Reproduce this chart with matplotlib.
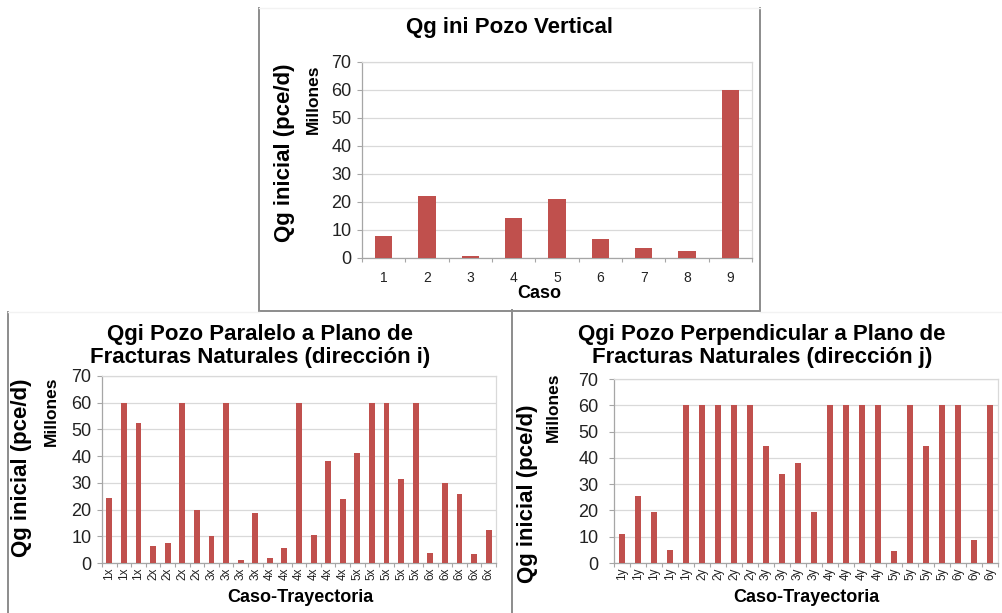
import numpy as np
import matplotlib
matplotlib.use('Agg')
import matplotlib.pyplot as plt
from matplotlib.lines import Line2D

plt.rcParams['font.family'] = ['Liberation Sans', 'DejaVu Sans']

# figure size in pixels (dpi 100)
W, H = 1003, 613

# --- data (millones de pce/d) ---
casos_vertical = ['1', '2', '3', '4', '5', '6', '7', '8', '9']
qg_vertical = [8.0, 22.0, 0.6, 14.2, 21.0, 6.8, 3.5, 2.4, 60.0]

casos_paralelo = ['1x', '1x', '1x', '2x', '2x', '2x', '2x', '3x', '3x', '3x', '3x',
                  '4x', '4x', '4x', '4x', '4x', '4x', '5x', '5x', '5x', '5x', '5x',
                  '6x', '6x', '6x', '6x', '6x']
qg_paralelo = [24.4, 60.0, 52.3, 6.4, 7.3, 60.0, 19.9, 10.1, 60.0, 1.0, 18.9,
               1.8, 5.6, 60.0, 10.5, 38.3, 23.8, 41.0, 60.0, 60.0, 31.6, 60.0,
               3.9, 30.0, 26.0, 3.5, 12.4]

casos_perpendicular = ['1y', '1y', '1y', '1y', '1y', '2y', '2y', '2y', '2y',
                       '3y', '3y', '3y', '3y', '4y', '4y', '4y', '4y',
                       '5y', '5y', '5y', '5y', '6y', '6y', '6y']
qg_perpendicular = [11.2, 25.4, 19.3, 5.1, 60.0, 60.0, 60.0, 60.0, 60.0,
                    44.7, 33.9, 38.1, 19.4, 60.0, 60.0, 60.0, 60.0,
                    4.7, 60.0, 44.4, 60.0, 60.0, 8.6, 60.0]

BAR_COLOR = '#C0504D'
GRID_COLOR = '#D9D9D9'
AXIS_COLOR = '#A6A6A6'
FRAME_COLOR = '#8C8C8C'


def fx(x):
    return x / W


def fy(y):
    return 1 - y / H


def axes_rect(left, top, right, bottom):
    """Pixel box (top-left origin) -> figure fraction rect."""
    return [fx(left), fy(bottom), (right - left) / W, (bottom - top) / H]


def bar_panel(ax, labels, values, xtick_size, rotation, xpad, ypad=4):
    """Excel-like column chart."""
    x = np.arange(len(values))
    ax.bar(x, values, width=0.4, color=BAR_COLOR, zorder=3)
    ax.set_xlim(-0.5, len(values) - 0.5)
    ax.set_ylim(0, 70)
    ax.set_yticks(range(0, 71, 10))
    ax.grid(axis='y', color=GRID_COLOR, lw=0.9, zorder=0)
    ax.set_axisbelow(True)

    ax.set_xticks(x)
    ax.set_xticklabels(labels, rotation=rotation, fontsize=xtick_size, color='#222222')
    ax.set_xticks(np.arange(len(values) + 1) - 0.5, minor=True)
    ax.tick_params(axis='x', which='major', length=0, pad=xpad)
    ax.tick_params(axis='x', which='minor', length=3, color=AXIS_COLOR, width=0.8)
    ax.tick_params(axis='y', length=3.6, color=AXIS_COLOR, width=0.8,
                   labelsize=13, labelcolor='#222222', pad=ypad)

    for side in ['top', 'right']:
        ax.spines[side].set_color(GRID_COLOR)
        ax.spines[side].set_linewidth(0.9)
    for side in ['left', 'bottom']:
        ax.spines[side].set_color(AXIS_COLOR)
        ax.spines[side].set_linewidth(0.9)


def frame_line(fig, x1, y1, x2, y2, color=FRAME_COLOR, lw=1.4):
    fig.add_artist(Line2D([fx(x1), fx(x2)], [fy(y1), fy(y2)],
                          transform=fig.transFigure, color=color, lw=lw))


fig = plt.figure(figsize=(W / 100, H / 100), dpi=100)

# --- top chart: pozo vertical ---
ax_top = fig.add_axes(axes_rect(362, 62, 752, 258))
bar_panel(ax_top, casos_vertical, qg_vertical, 10, 0, 9)
fig.text(fx(510), fy(28), 'Qg ini Pozo Vertical', ha='center', va='center',
         fontsize=16, fontweight='bold')
fig.text(fx(285), fy(153), 'Qg inicial (pce/d)', rotation=90, ha='center', va='center',
         fontsize=16, fontweight='bold')
fig.text(fx(313), fy(64), 'Millones', rotation=90, ha='center', va='top',
         fontsize=12.5, fontweight='bold')
fig.text(fx(539), fy(293), 'Caso', ha='center', va='center',
         fontsize=13, fontweight='bold')

# --- bottom left: paralelo (direccion i) ---
ax_par = fig.add_axes(axes_rect(102, 376, 496, 563))
bar_panel(ax_par, casos_paralelo, qg_paralelo, 8.5, 90, 3)
fig.text(fx(260), fy(346), 'Qgi Pozo Paralelo a Plano de\nFracturas Naturales (dirección i)',
         ha='center', va='center', fontsize=16, fontweight='bold', linespacing=1.08)
fig.text(fx(22), fy(468), 'Qg inicial (pce/d)', rotation=90, ha='center', va='center',
         fontsize=16, fontweight='bold')
fig.text(fx(51), fy(377), 'Millones', rotation=90, ha='center', va='top',
         fontsize=12.5, fontweight='bold')
fig.text(fx(300), fy(598), 'Caso-Trayectoria', ha='center', va='center',
         fontsize=13, fontweight='bold')

# --- bottom right: perpendicular (direccion j) ---
ax_perp = fig.add_axes(axes_rect(614, 379, 998, 563))
bar_panel(ax_perp, casos_perpendicular, qg_perpendicular, 8.5, 90, 3, ypad=7.5)
fig.text(fx(762), fy(346), 'Qgi Pozo Perpendicular a Plano de\nFracturas Naturales (dirección j)',
         ha='center', va='center', fontsize=16, fontweight='bold', linespacing=1.08)
fig.text(fx(527), fy(494), 'Qg inicial (pce/d)', rotation=90, ha='center', va='center',
         fontsize=16, fontweight='bold')
fig.text(fx(553), fy(373), 'Millones', rotation=90, ha='center', va='top',
         fontsize=12.5, fontweight='bold')
fig.text(fx(806), fy(598), 'Caso-Trayectoria', ha='center', va='center',
         fontsize=13, fontweight='bold')

# chart frames (gray borders of the pasted Excel charts)
frame_line(fig, 259, 8, 259, 311)
frame_line(fig, 760, 8, 760, 311)
frame_line(fig, 259, 311, 760, 311)
frame_line(fig, 259, 8, 760, 8, color='#F2F2F2', lw=1.0)
frame_line(fig, 8, 312, 8, 613)
frame_line(fig, 512, 310, 512, 613)
frame_line(fig, 8, 312, 259, 312, color='#F2F2F2', lw=1.0)
frame_line(fig, 760, 312, 1003, 312, color='#F2F2F2', lw=1.0)

fig.savefig('out.png', dpi=100)
